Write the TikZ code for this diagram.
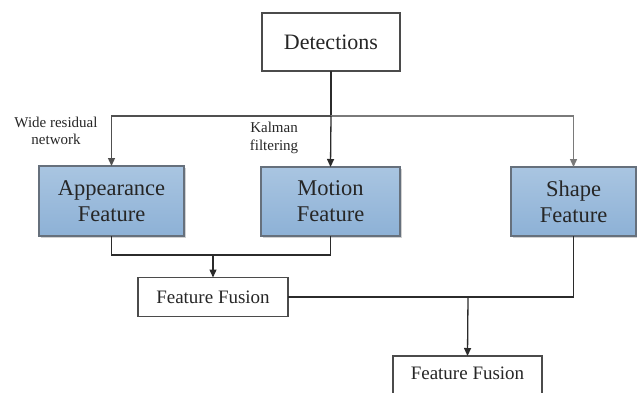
\documentclass[tikz,border=0pt]{standalone}
\usepackage{fontspec}
\setmainfont{Liberation Serif}
\newfontfamily\tnr{Liberation Serif}
\usetikzlibrary{arrows.meta,shadows}
\definecolor{boxtop}{HTML}{A9C5E1}
\definecolor{boxbot}{HTML}{8DB1D6}
\definecolor{boxline}{HTML}{66707C}
\definecolor{darkline}{HTML}{2B2B2B}
\definecolor{midline}{HTML}{505050}
\definecolor{lightline}{HTML}{7A7A7A}
\tikzset{
  plainbox/.style={draw=darkline!85, line width=1.2pt, fill=white, inner sep=0pt, outer sep=0pt,
    align=center, text=black!85},
  featbox/.style={draw=boxline, line width=1.4pt, top color=boxtop, bottom color=boxbot,
    inner sep=0pt, outer sep=0pt, align=center, text=black!85, font=\tnr\fontsize{22.5}{26}\selectfont,
    drop shadow={shadow xshift=1.5pt, shadow yshift=-2pt, fill=black!18, opacity=1}},
  conn/.style={line width=1.3pt, draw=darkline},
  tip/.style={-{Triangle[length=8pt,width=7pt]}},
  lbl/.style={font=\tnr\fontsize{15}{17.5}\selectfont, align=center, text=black!85}
}
\begin{document}
\begin{tikzpicture}[x=1pt,y=-1pt]
\useasboundingbox (0,0) rectangle (637,392);
\clip (0,0) rectangle (637,392);

% source node
\node[plainbox, minimum width=138pt, minimum height=58pt, font=\tnr\fontsize{22}{26}\selectfont]
  (det) at (331,42) {Detections};

% feature extractors
\node[featbox, minimum width=145pt, minimum height=70pt] (app) at (111.5,201) {Appearance\\Feature};
\node[featbox, minimum width=139pt, minimum height=69pt] (mot) at (330.5,201.5) {Motion\\Feature};
\node[featbox, minimum width=125pt, minimum height=69pt] (shp) at (573.5,201.5) {Shape\\Feature};

% fusion stages
\node[plainbox, minimum width=150pt, minimum height=39pt, font=\tnr\fontsize{19}{22}\selectfont]
  (ff1) at (213,297) {Feature Fusion};
\node[plainbox, minimum width=149pt, minimum height=44pt, font=\tnr\fontsize{19}{22}\selectfont,
  text depth=0pt] (ff2) at (467.5,378) {\raisebox{9pt}{Feature Fusion}};

% junction points
\coordinate (top) at (331,116);
\coordinate (j1) at (213,255);
\coordinate (j2) at (468,297);

% distribution from detections
\draw[conn] (det.south) -- (top);
\draw[conn, draw=midline, tip] (top) -| (app.north);
\draw[conn, draw=lightline, tip] (top) -| (shp.north);
\draw[conn, tip] (top) -- (mot.north);

% first fusion
\draw[conn] (app.south) |- (j1) -| (mot.south);
\draw[conn, tip] (j1) -- (ff1.north);

% second fusion
\draw[conn] (ff1.east) -- (j2) -| (shp.south);
\draw[conn, tip] (j2) -- (ff2.north);

% method labels
\node[lbl] (wrn) at (56,131) {Wide residual\\network};
\node[lbl] (kal) at (274,138) {Kalman\\filtering};
\end{tikzpicture}
\end{document}
